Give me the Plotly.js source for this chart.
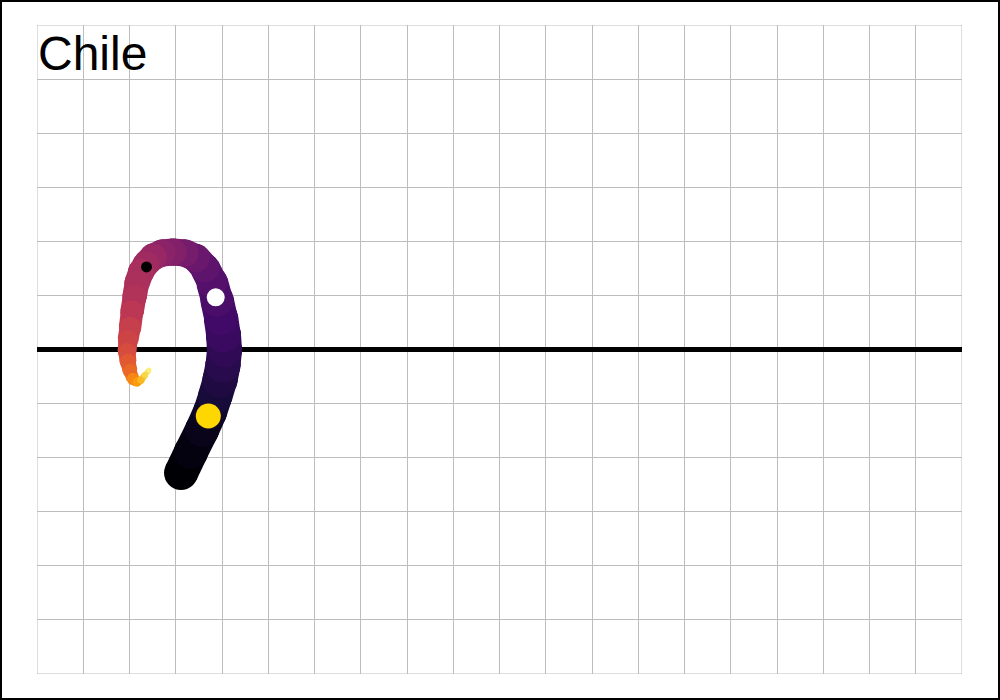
<!DOCTYPE html>
<html>
<head>
<meta charset="utf-8">
<script src="https://cdn.plot.ly/plotly-3.0.1.min.js"></script>
<style>
  html, body { margin: 0; padding: 0; background: #fff; }
  #frame { width: 1000px; height: 700px; box-sizing: border-box; border: 2px solid #000; }
  #chart { width: 996px; height: 696px; }
</style>
</head>
<body>
<div id="frame"><div id="chart"></div></div>
<script>
// Path (centre line), in data units
const pathX = [3.114, 3.330, 3.568, 3.741, 3.849, 3.957, 4.022, 4.054, 4.032, 3.978,
               3.892, 3.784, 3.632, 3.438, 3.200, 2.941, 2.703, 2.508, 2.357, 2.249,
               2.162, 2.108, 2.054, 2.011, 1.968, 1.946, 1.968, 2.011, 2.076, 2.162,
               2.249, 2.335, 2.422];
const pathY = [-2.284, -1.895, -1.488, -1.156, -0.878, -0.564, -0.287, -0.009, 0.268, 0.582,
               0.915, 1.248, 1.507, 1.692, 1.784, 1.803, 1.784, 1.710, 1.581, 1.433,
               1.230, 0.971, 0.693, 0.398, 0.176, -0.046, -0.231, -0.397, -0.545, -0.601,
               -0.564, -0.471, -0.379];
// colour value (0..1 on the inferno scale) for each point
const pathT = [0.00, 0.02, 0.04, 0.07, 0.10, 0.12, 0.14, 0.16, 0.18, 0.20,
               0.22, 0.245, 0.27, 0.30, 0.33, 0.36, 0.38, 0.41, 0.43, 0.45,
               0.46, 0.475, 0.50, 0.53, 0.55, 0.58, 0.62, 0.66, 0.73, 0.78,
               0.84, 0.90, 0.96];
// stroke width (px) for each point
const pathW = [34, 34, 34, 34, 34, 35, 35, 35, 35, 34,
               33, 31, 29, 28, 27, 27, 27, 27, 26, 26,
               25, 24, 23, 22, 20, 18, 16, 14, 12, 9,
               7, 6, 5];

// highlighted dots
const dotX = [3.704, 3.864, 2.368];
const dotY = [-1.230, 0.965, 1.526];
const dotSize = [25, 18, 11];
const dotColor = ['#ffd700', '#ffffff', '#000000'];

const titleText = 'Chile';

// inferno colour scale stops
const infernoStops = ['#000004', '#160b39', '#420a68', '#6a176e', '#932667', '#bc3754',
                      '#dd513a', '#f37819', '#fca50a', '#f6d746', '#fcffa4'];

function hexToRgb(h) {
  return [parseInt(h.slice(1, 3), 16), parseInt(h.slice(3, 5), 16), parseInt(h.slice(5, 7), 16)];
}
function inferno(t) {
  t = Math.max(0, Math.min(1, t));
  const n = infernoStops.length - 1;
  const pos = t * n;
  const i = Math.min(n - 1, Math.floor(pos));
  const f = pos - i;
  const a = hexToRgb(infernoStops[i]), b = hexToRgb(infernoStops[i + 1]);
  const c = a.map((v, k) => Math.round(v + (b[k] - v) * f));
  return 'rgb(' + c.join(',') + ')';
}

const traces = [];
for (let i = 0; i < pathX.length - 1; i++) {
  traces.push({
    type: 'scatter',
    mode: 'lines+markers',
    x: [pathX[i], pathX[i + 1]],
    y: [pathY[i], pathY[i + 1]],
    line: { color: inferno((pathT[i] + pathT[i + 1]) / 2), width: (pathW[i] + pathW[i + 1]) / 2 },
    marker: { size: [pathW[i], pathW[i + 1]], color: [inferno(pathT[i]), inferno(pathT[i + 1])],
              opacity: 1, line: { width: 0 } },
    opacity: 1,
    hoverinfo: 'skip',
    showlegend: false
  });
}
traces.push({
  type: 'scatter',
  mode: 'markers',
  x: dotX,
  y: dotY,
  marker: { size: dotSize, color: dotColor, opacity: 1, line: { width: 0 } },
  hoverinfo: 'skip',
  showlegend: false
});

const layout = {
  width: 996,
  height: 696,
  margin: { l: 35, r: 36, t: 23, b: 24, pad: 0 },
  paper_bgcolor: '#ffffff',
  plot_bgcolor: '#ffffff',
  showlegend: false,
  xaxis: {
    range: [0, 20], dtick: 1, tick0: 0, showticklabels: false, ticks: '',
    showgrid: true, gridcolor: '#bdbdbd', gridwidth: 1, zeroline: false, showline: false, fixedrange: true
  },
  yaxis: {
    range: [-6, 6], dtick: 1, tick0: 0, showticklabels: false, ticks: '',
    showgrid: true, gridcolor: '#bdbdbd', gridwidth: 1,
    zeroline: true, zerolinecolor: '#000000', zerolinewidth: 4.5, showline: false, fixedrange: true
  },
  shapes: [{
    type: 'rect', xref: 'x', yref: 'y', x0: 0, x1: 20, y0: -6, y1: 6,
    line: { color: '#bdbdbd', width: 1 }, fillcolor: 'rgba(0,0,0,0)', layer: 'below'
  }],
  annotations: [{
    text: titleText, xref: 'paper', yref: 'paper', x: 0, y: 1,
    xanchor: 'left', yanchor: 'top', showarrow: false, borderpad: 0, xshift: 0, yshift: -1,
    font: { family: 'Liberation Sans, Arial, sans-serif', size: 48, color: '#000000' }
  }]
};

Plotly.newPlot('chart', traces, layout, { staticPlot: true, displayModeBar: false });
</script>
</body>
</html>
